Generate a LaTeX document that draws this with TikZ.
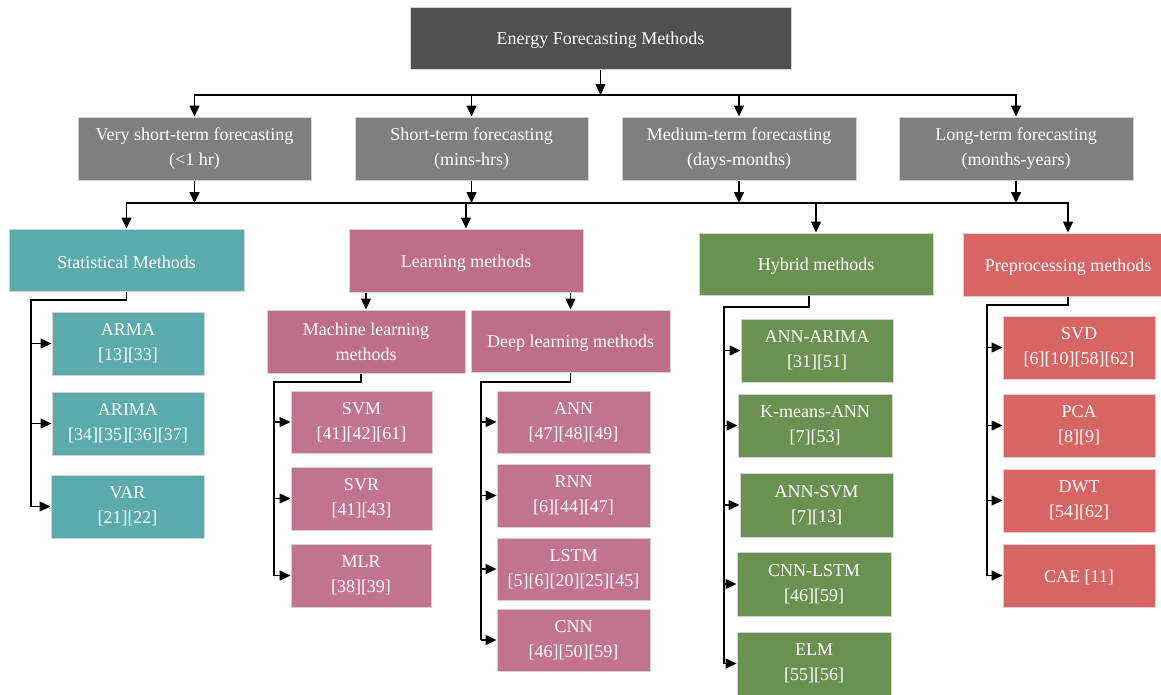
\documentclass[tikz,border=0pt]{standalone}
\usepackage{fontspec}
\setmainfont{Liberation Serif}
\usetikzlibrary{arrows.meta}
\definecolor{topc}{HTML}{505050}
\definecolor{grayc}{HTML}{7F7F7F}
\definecolor{tealc}{HTML}{5BABAD}
\definecolor{pinkc}{HTML}{BF6E8A}
\definecolor{pinks}{HTML}{C1738F}
\definecolor{greenc}{HTML}{6B9152}
\definecolor{redc}{HTML}{D96464}
\definecolor{bord}{HTML}{D2D2D2}
\begin{document}
\begin{tikzpicture}[x=1pt,y=-1pt,
  bx/.style={draw=bord, line width=1pt, text=white, align=center, inner sep=0pt, font=\fontsize{18}{25}\selectfont, execute at begin node={\rule{0pt}{17pt}}},
  wh/.style 2 args={minimum width=#1pt, minimum height=#2pt},
  con/.style={line width=1.5pt, draw=black, line join=miter},
  arr/.style={con, -{Triangle[length=11pt,width=10pt]}}]
\clip (0,0) rectangle (1161,694);
\fill[white] (0,0) rectangle (1161,694);
% top
\node[bx, fill=topc, wh={381}{62}] (top) at (600.5,38) {Energy Forecasting Methods};
% level 2
\node[bx, fill=grayc, wh={233}{63}] (vst) at (194.5,148.5) {Very short-term forecasting\\(<1 hr)};
\node[bx, fill=grayc, wh={233}{63}] (st) at (471.5,148.5) {Short-term forecasting\\(mins-hrs)};
\node[bx, fill=grayc, wh={234}{63}] (mt) at (739,148.5) {Medium-term forecasting\\(days-months)};
\node[bx, fill=grayc, wh={234}{63}] (lt) at (1016,148.5) {Long-term forecasting\\(months-years)};
% level 3
\node[bx, fill=tealc, wh={235}{62}] (stat) at (126.5,260) {Statistical Methods};
\node[bx, fill=pinkc, wh={234}{63}] (learn) at (466,260.5) {Learning methods};
\node[bx, fill=greenc, wh={234}{62}] (hyb) at (816,264) {Hybrid methods};
\node[bx, fill=redc, wh={210}{63}] (pre) at (1068,264.5) {Preprocessing methods};
% statistical leaves
\node[bx, fill=tealc, wh={152}{63}] (arma) at (128,343.5) {ARMA\\{}[13][33]};
\node[bx, fill=tealc, wh={152}{63}] (arima) at (128,423.5) {ARIMA\\{}[34][35][36][37]};
\node[bx, fill=tealc, wh={153}{63}] (var) at (127.5,506.5) {VAR\\{}[21][22]};
% learning sub
\node[bx, fill=pinkc, wh={198}{63}] (ml) at (366,341.5) {Machine learning\\methods};
\node[bx, fill=pinkc, wh={199}{62}] (dl) at (570.5,341) {Deep learning methods};
\node[bx, fill=pinks, wh={141}{62}] (svm) at (361.5,422) {SVM\\{}[41][42][61]};
\node[bx, fill=pinks, wh={141}{63}] (svr) at (361.5,498.5) {SVR\\{}[41][43]};
\node[bx, fill=pinks, wh={140}{63}] (mlr) at (361,575.5) {MLR\\{}[38][39]};
\node[bx, fill=pinks, wh={153}{62}] (ann) at (573.5,422) {ANN\\{}[47][48][49]};
\node[bx, fill=pinks, wh={153}{63}] (rnn) at (573.5,495.5) {RNN\\{}[6][44][47]};
\node[bx, fill=pinks, wh={153}{62}] (lstm) at (573.5,569) {LSTM\\{}[5][6][20][25][45]};
\node[bx, fill=pinks, wh={153}{62}] (cnn) at (573.5,640) {CNN\\{}[46][50][59]};
% hybrid leaves
\node[bx, fill=greenc, wh={152}{63}] (annarima) at (817,350.5) {ANN-ARIMA\\{}[31][51]};
\node[bx, fill=greenc, wh={154}{63}] (kmeans) at (815,425.5) {K-means-ANN\\{}[7][53]};
\node[bx, fill=greenc, wh={153}{64}] (annsvm) at (816.5,505) {ANN-SVM\\{}[7][13]};
\node[bx, fill=greenc, wh={154}{64}] (cnnlstm) at (814,584) {CNN-LSTM\\{}[46][59]};
\node[bx, fill=greenc, wh={154}{63}] (elm) at (814,663.5) {ELM\\{}[55][56]};
% preprocessing leaves
\node[bx, fill=redc, wh={152}{63}] (svd) at (1079,347.5) {SVD\\{}[6][10][58][62]};
\node[bx, fill=redc, wh={152}{63}] (pca) at (1079,425.5) {PCA\\{}[8][9]};
\node[bx, fill=redc, wh={152}{63}] (dwt) at (1079,500.5) {DWT\\{}[54][62]};
\node[bx, fill=redc, wh={152}{63}] (cae) at (1079,575.5) {CAE [11]};
% buses
\coordinate (b1) at (600.5,95);
\coordinate (b2) at (600,203);
\draw[arr] (top.south) -- (b1);
\foreach \n in {vst,st,mt,lt} \draw[arr] (b1) -| (\n.north);
\foreach \n in {vst,st,mt,lt} \draw[arr] (\n.south) -- (\n.south |- b2);
\draw[con] (vst.south |- b2) -- (st.south |- b2);
\draw[con] (st.south |- b2) -- (lt.south |- b2);
\foreach \n in {stat,learn,hyb,pre} \draw[arr] (vst.south |- b2) -| (\n.north);
% statistical
\coordinate (sp1) at (31,300);
\draw[con] (stat.south) |- (sp1) -- (sp1 |- var.west);
\foreach \n in {arma,arima,var} \draw[arr] (sp1 |- \n.west) -- (\n.west);
% learning
\draw[arr] (ml.north |- learn.south) -- (ml.north);
\draw[arr] (dl.north |- learn.south) -- (dl.north);
\coordinate (sp2) at (274,382);
\draw[con] ([xshift=-5pt]ml.south) |- (sp2) -- (sp2 |- mlr.west);
\foreach \n in {svm,svr,mlr} \draw[arr] (sp2 |- \n.west) -- (\n.west);
\coordinate (sp3) at (481,382);
\draw[con] (dl.south) |- (sp3) -- (sp3 |- cnn.west);
\foreach \n in {ann,rnn,lstm,cnn} \draw[arr] (sp3 |- \n.west) -- (\n.west);
% hybrid
\coordinate (sp4) at (724,307);
\draw[con] ([xshift=-7pt]hyb.south) |- (sp4) -- (sp4 |- elm.west);
\foreach \n in {annarima,kmeans,annsvm,cnnlstm,elm} \draw[arr] (sp4 |- \n.west) -- (\n.west);
% preprocessing
\coordinate (sp5) at (987,305);
\draw[con] (pre.south) |- (sp5) -- (sp5 |- cae.west);
\foreach \n in {svd,pca,dwt,cae} \draw[arr] (sp5 |- \n.west) -- (\n.west);
\end{tikzpicture}
\end{document}
